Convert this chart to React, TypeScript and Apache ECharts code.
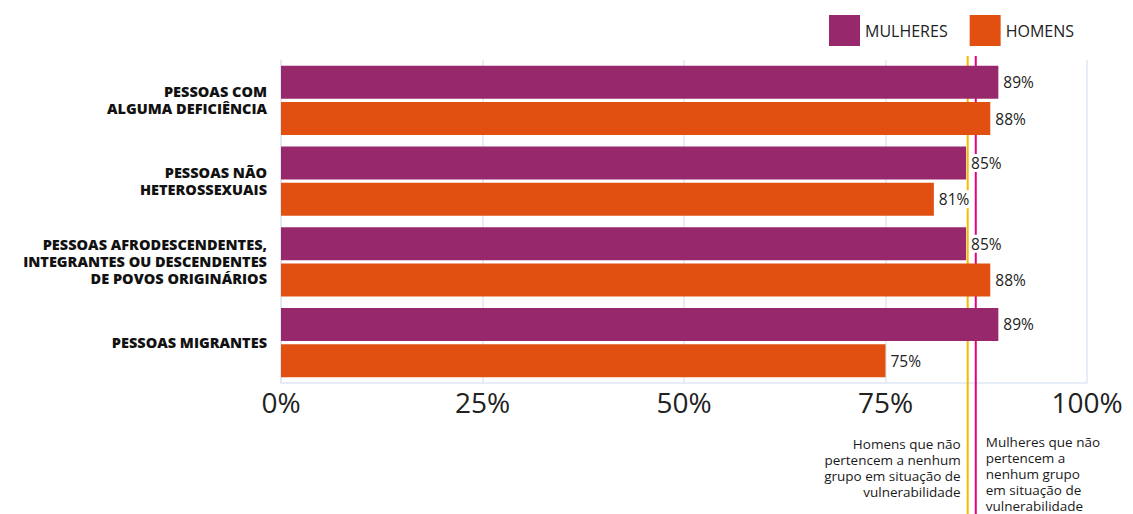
import React, { useEffect, useRef } from "react";
import * as echarts from "echarts";

const categories = [
  "PESSOAS COM\nALGUMA DEFICIÊNCIA",
  "PESSOAS NÃO\nHETEROSSEXUAIS",
  "PESSOAS AFRODESCENDENTES,\nINTEGRANTES OU DESCENDENTES\nDE POVOS ORIGINÁRIOS",
  "PESSOAS MIGRANTES",
];
const seriesNames = ["MULHERES", "HOMENS"];
const mulheres = [89, 85, 85, 89];
const homens = [88, 81, 88, 75];
const xTicks = [0, 25, 50, 75, 100];
const refHomens = 85.2;
const refMulheres = 86.2;
const noteHomens = "Homens que não\npertencem a nenhum\ngrupo em situação de\nvulnerabilidade";
const noteMulheres = "Mulheres que não\npertencem a\nnenhum grupo\nem situação de\nvulnerabilidade";

const PURPLE = "#98286c";
const ORANGE = "#e15011";
const YELLOW = "#f7b800";
const PINK = "#e5007e";
const GRID = "#dfe7f5";
const FONT = "Open Sans";

export default function App() {
  const ref = useRef<HTMLDivElement>(null);
  useEffect(() => {
    if (!ref.current) return;
    const chart = echarts.init(ref.current, undefined, { renderer: "svg" });
    const barLabel = {
      show: true,
      position: "right",
      distance: 4,
      formatter: "{c}%",
      fontFamily: FONT,
      fontSize: 15.5,
      color: "#222",
      backgroundColor: "#fff",
      padding: [1, 1],
    };
    chart.setOption({
      animation: false,
      textStyle: { fontFamily: FONT },
      legend: {
        top: 10,
        right: 54,
        itemWidth: 31,
        itemHeight: 31,
        itemGap: 22,
        icon: "rect",
        textStyle: { fontFamily: FONT, fontSize: 16, color: "#222" },
        data: seriesNames,
      },
      grid: { left: 281, right: 46, top: 60, bottom: 131, containLabel: false },
      xAxis: {
        type: "value",
        min: xTicks[0],
        max: xTicks[xTicks.length - 1],
        interval: 25,
        axisLine: { show: true, lineStyle: { color: GRID, width: 1.5 } },
        axisTick: { show: false },
        splitLine: { show: true, lineStyle: { color: GRID, width: 1.5 } },
        axisLabel: {
          formatter: (v: number) => (xTicks.includes(v) ? v + "%" : ""),
          fontFamily: FONT,
          fontSize: 28,
          color: "#222",
          margin: 5,
        },
      },
      yAxis: {
        type: "category",
        inverse: true,
        data: categories,
        axisLine: { show: true, lineStyle: { color: GRID, width: 1.5 } },
        axisTick: { show: false },
        axisLabel: {
          fontFamily: FONT,
          fontWeight: 800,
          fontSize: 14.5,
          lineHeight: 17,
          color: "#111",
          margin: 14,
          align: "right",
        },
      },
      series: [
        {
          name: seriesNames[0],
          type: "bar",
          data: mulheres,
          itemStyle: { color: PURPLE },
          barCategoryGap: "14%",
          barGap: "10%",
          label: barLabel,
        },
        {
          name: seriesNames[1],
          type: "bar",
          data: homens,
          itemStyle: { color: ORANGE },
          barCategoryGap: "14%",
          barGap: "10%",
          label: barLabel,
        },
      ],
    });
    const xh = chart.convertToPixel({ xAxisIndex: 0 }, refHomens) as number;
    const xm = chart.convertToPixel({ xAxisIndex: 0 }, refMulheres) as number;
    const topY = 56;
    const botY = 514;
    chart.setOption({
      graphic: [
        {
          type: "line",
          z: 2,
          shape: { x1: xh, y1: topY, x2: xh, y2: botY },
          style: { stroke: YELLOW, lineWidth: 2 },
        },
        {
          type: "line",
          z: 2,
          shape: { x1: xm, y1: topY, x2: xm, y2: botY },
          style: { stroke: PINK, lineWidth: 2 },
        },
        {
          type: "text",
          x: xh - 7,
          y: 436,
          style: {
            text: noteHomens,
            align: "right",
            verticalAlign: "top",
            fontFamily: FONT,
            fontSize: 13.5,
            lineHeight: 16,
            fill: "#1a1a1a",
          },
        },
        {
          type: "text",
          x: xm + 10,
          y: 434,
          style: {
            text: noteMulheres,
            align: "left",
            verticalAlign: "top",
            fontFamily: FONT,
            fontSize: 13.5,
            lineHeight: 16,
            fill: "#1a1a1a",
          },
        },
      ],
    });
    return () => chart.dispose();
  }, []);
  return (
    <div
      ref={ref}
      style={{ position: "absolute", left: 0, top: 0, width: 1133, height: 514, background: "#fff" }}
    />
  );
}
